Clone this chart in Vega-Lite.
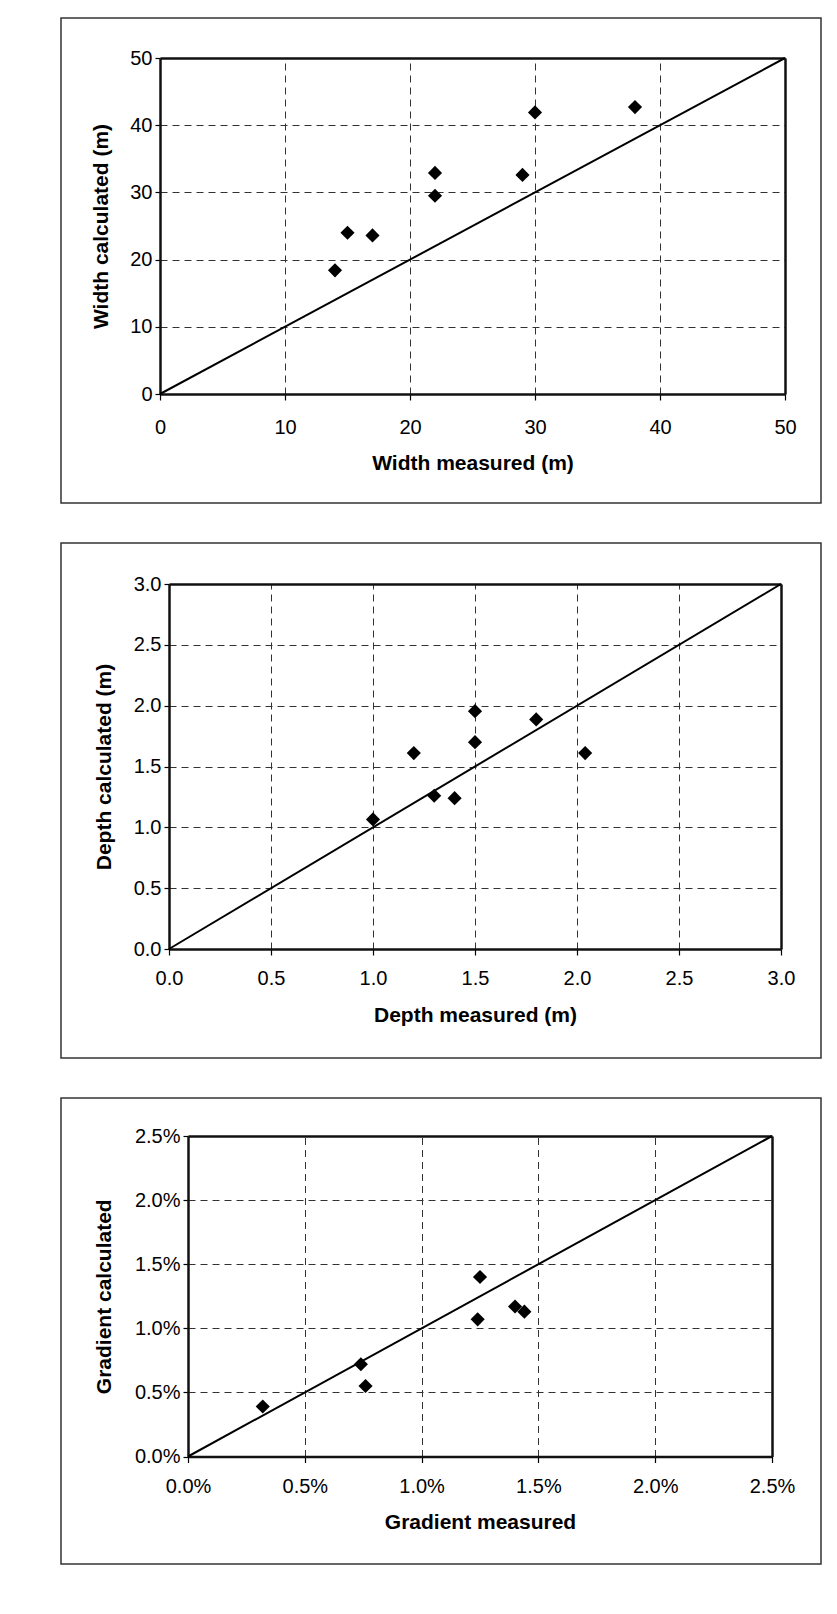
{
  "$schema": "https://vega.github.io/schema/vega-lite/v6.json",
  "padding": {"left": 60, "top": 17, "right": 10, "bottom": 10},
  "background": "white",
  "spacing": 38,
  "datasets": {
    "width": [
      {"measured": 14, "calculated": 18.4},
      {"measured": 15, "calculated": 24.0},
      {"measured": 17, "calculated": 23.6},
      {"measured": 22, "calculated": 32.9},
      {"measured": 22, "calculated": 29.5},
      {"measured": 29, "calculated": 32.6},
      {"measured": 30, "calculated": 41.9},
      {"measured": 38, "calculated": 42.7}
    ],
    "depth": [
      {"measured": 1.0, "calculated": 1.065},
      {"measured": 1.2, "calculated": 1.61},
      {"measured": 1.3, "calculated": 1.26},
      {"measured": 1.4, "calculated": 1.24},
      {"measured": 1.5, "calculated": 1.955},
      {"measured": 1.5, "calculated": 1.70},
      {"measured": 1.8, "calculated": 1.887},
      {"measured": 2.04, "calculated": 1.61}
    ],
    "gradient": [
      {"measured": 0.0032, "calculated": 0.0039},
      {"measured": 0.0074, "calculated": 0.0072},
      {"measured": 0.0076, "calculated": 0.0055},
      {"measured": 0.0124, "calculated": 0.0107},
      {"measured": 0.0125, "calculated": 0.0140},
      {"measured": 0.0140, "calculated": 0.0117},
      {"measured": 0.0144, "calculated": 0.0113}
    ],
    "one": [{}]
  },
  "vconcat": [
    {
      "width": 760,
      "height": 485,
      "resolve": {"axis": {"x": "independent", "y": "independent"}},
      "layer": [
        {
          "data": {"name": "width"},
          "mark": {"type": "point", "shape": "diamond", "filled": true, "color": "black", "size": 200, "opacity": 1},
          "encoding": {
            "x": {"field": "measured", "type": "quantitative",
              "scale": {"domain": [0, 50], "range": [99, 724], "nice": false, "zero": false},
              "axis": {"title": "Width measured (m)", "values": [0, 10, 20, 30, 40, 50], "orient": "bottom", "offset": -109, "grid": false, "tickSize": 6, "labelPadding": 17, "titlePadding": 15}},
            "y": {"field": "calculated", "type": "quantitative",
              "scale": {"domain": [0, 50], "range": [376, 40], "nice": false, "zero": false},
              "axis": {"title": "Width calculated (m)", "values": [0, 10, 20, 30, 40, 50], "orient": "left", "offset": -99, "grid": true, "tickSize": 5, "labelPadding": 3, "titlePadding": 18}}
          }
        },
        {
          "data": {"name": "one"},
          "mark": {"type": "rule", "color": "black", "strokeWidth": 2},
          "encoding": {
            "x": {"datum": 0, "type": "quantitative",
              "axis": {"title": null, "values": [0, 10, 20, 30, 40, 50], "orient": "top", "offset": -40, "grid": true, "labels": false, "ticks": false}},
            "x2": {"datum": 50},
            "y": {"datum": 0, "type": "quantitative",
              "axis": {"title": null, "values": [0, 10, 20, 30, 40, 50], "orient": "right", "offset": -36, "grid": false, "labels": false, "ticks": false}},
            "y2": {"datum": 50}
          }
        }
      ]
    },
    {
      "width": 760,
      "height": 515,
      "resolve": {"axis": {"x": "independent", "y": "independent"}},
      "layer": [
        {
          "data": {"name": "depth"},
          "mark": {"type": "point", "shape": "diamond", "filled": true, "color": "black", "size": 200, "opacity": 1},
          "encoding": {
            "x": {"field": "measured", "type": "quantitative",
              "scale": {"domain": [0, 3], "range": [108, 720], "nice": false, "zero": false},
              "axis": {"title": "Depth measured (m)", "values": [0, 0.5, 1, 1.5, 2, 2.5, 3], "format": ".1f", "orient": "bottom", "offset": -109, "grid": false, "tickSize": 6, "labelPadding": 13, "titlePadding": 16}},
            "y": {"field": "calculated", "type": "quantitative",
              "scale": {"domain": [0, 3], "range": [406, 41], "nice": false, "zero": false},
              "axis": {"title": "Depth calculated (m)", "values": [0, 0.5, 1, 1.5, 2, 2.5, 3], "format": ".1f", "orient": "left", "offset": -108, "grid": true, "tickSize": 5, "labelPadding": 3, "titlePadding": 19}}
          }
        },
        {
          "data": {"name": "one"},
          "mark": {"type": "rule", "color": "black", "strokeWidth": 2},
          "encoding": {
            "x": {"datum": 0, "type": "quantitative",
              "axis": {"title": null, "values": [0, 0.5, 1, 1.5, 2, 2.5, 3], "orient": "top", "offset": -41, "grid": true, "labels": false, "ticks": false}},
            "x2": {"datum": 3},
            "y": {"datum": 0, "type": "quantitative",
              "axis": {"title": null, "values": [0, 0.5, 1, 1.5, 2, 2.5, 3], "orient": "right", "offset": -40, "grid": false, "labels": false, "ticks": false}},
            "y2": {"datum": 3}
          }
        }
      ]
    },
    {
      "width": 760,
      "height": 466,
      "resolve": {"axis": {"x": "independent", "y": "independent"}},
      "layer": [
        {
          "data": {"name": "gradient"},
          "mark": {"type": "point", "shape": "diamond", "filled": true, "color": "black", "size": 200, "opacity": 1},
          "encoding": {
            "x": {"field": "measured", "type": "quantitative",
              "scale": {"domain": [0, 0.025], "range": [127, 711], "nice": false, "zero": false},
              "axis": {"title": "Gradient measured", "values": [0, 0.005, 0.01, 0.015, 0.02, 0.025], "format": ".1%", "orient": "bottom", "offset": -107.5, "grid": false, "tickSize": 6, "labelPadding": 14, "titlePadding": 15}},
            "y": {"field": "calculated", "type": "quantitative",
              "scale": {"domain": [0, 0.025], "range": [358.5, 38], "nice": false, "zero": false},
              "axis": {"title": "Gradient calculated", "values": [0, 0.005, 0.01, 0.015, 0.02, 0.025], "format": ".1%", "orient": "left", "offset": -127, "grid": true, "tickSize": 5, "labelPadding": 3, "titlePadding": 20}}
          }
        },
        {
          "data": {"name": "one"},
          "mark": {"type": "rule", "color": "black", "strokeWidth": 2},
          "encoding": {
            "x": {"datum": 0, "type": "quantitative",
              "axis": {"title": null, "values": [0, 0.005, 0.01, 0.015, 0.02, 0.025], "orient": "top", "offset": -38, "grid": true, "labels": false, "ticks": false}},
            "x2": {"datum": 0.025},
            "y": {"datum": 0, "type": "quantitative",
              "axis": {"title": null, "values": [0, 0.005, 0.01, 0.015, 0.02, 0.025], "orient": "right", "offset": -49, "grid": false, "labels": false, "ticks": false}},
            "y2": {"datum": 0.025}
          }
        }
      ]
    }
  ],
  "config": {
    "view": {"stroke": "#333", "strokeWidth": 1.5},
    "axis": {
      "labelFont": "Liberation Sans", "labelFontSize": 20, "labelColor": "black", "labelFlush": false,
      "titleFont": "Liberation Sans", "titleFontSize": 21, "titleFontWeight": "bold", "titleColor": "black",
      "tickColor": "black", "tickWidth": 1.2,
      "domain": true, "domainColor": "#111", "domainWidth": 2.5,
      "gridColor": "#333", "gridDash": [7, 5], "gridWidth": 1, "gridOpacity": 1
    }
  }
}
